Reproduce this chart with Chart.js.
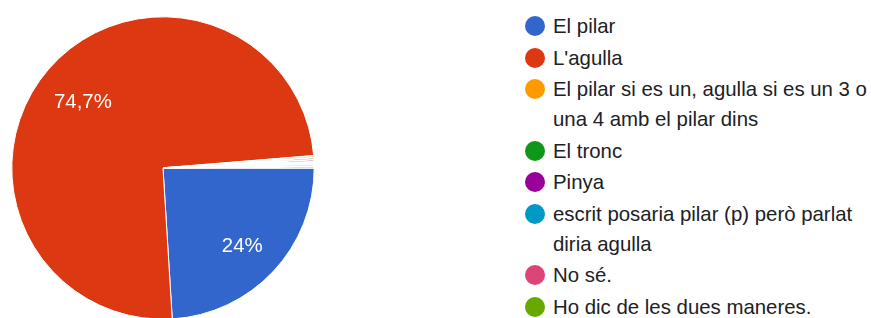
<!DOCTYPE html>
<html>
<head>
<meta charset="utf-8">
<script src="https://cdn.jsdelivr.net/npm/chart.js@4/dist/chart.umd.min.js"></script>
<style>
  html, body { margin: 0; padding: 0; background: #fff; width: 871px; height: 318px; overflow: hidden; }
  #pieBox { position: absolute; left: 11px; top: 16px; width: 304px; height: 304px; }
  #legend { position: absolute; left: 525px; top: 11px; width: 346px; margin: 0; padding: 0; list-style: none;
            font-family: "Liberation Sans", Arial, sans-serif; font-size: 20.4px; color: #202124; }
  #legend li { position: relative; padding-left: 28px; line-height: 30px; margin-bottom: 1.5px; }
  #legend li span.dot { position: absolute; left: 0; top: 5px; width: 20px; height: 20px; border-radius: 50%; }
</style>
</head>
<body>
<div id="pieBox"><canvas id="c"></canvas></div>
<ul id="legend"></ul>
<script>
const categories = [
  "El pilar",
  "L'agulla",
  "El pilar si es un, agulla si es un 3 o una 4 amb el pilar dins",
  "El tronc",
  "Pinya",
  "escrit posaria pilar (p) però parlat diria agulla",
  "No sé.",
  "Ho dic de les dues maneres."
];
const responses = [111, 345, 1, 1, 1, 1, 1, 1];
const percentLabels = ["24%", "74,7%", "", "", "", "", "", ""];
const colors = ["#3366CC", "#DC3912", "#FF9900", "#109618", "#990099", "#0099C6", "#DD4477", "#66AA00"];

const pctPlugin = {
  id: 'pct',
  afterDatasetsDraw(chart) {
    const ctx = chart.ctx;
    const meta = chart.getDatasetMeta(0);
    ctx.save();
    ctx.fillStyle = '#ffffff';
    ctx.font = '20.4px "Liberation Sans", Arial, sans-serif';
    ctx.textAlign = 'center';
    ctx.textBaseline = 'middle';
    meta.data.forEach((arc, i) => {
      const t = percentLabels[i];
      if (!t) return;
      const p = arc.getProps(['x','y','startAngle','endAngle','outerRadius'], true);
      const mid = (p.startAngle + p.endAngle) / 2;
      const r = p.outerRadius * 0.71;
      ctx.fillText(t, p.x + Math.cos(mid) * r + 1, p.y + Math.sin(mid) * r + 5);
    });
    ctx.restore();
  }
};

const chart = new Chart(document.getElementById('c'), {
  type: 'pie',
  data: {
    labels: categories,
    datasets: [{
      data: responses,
      backgroundColor: colors,
      borderColor: '#ffffff',
      borderWidth: [1, 1, 1.6, 1.6, 1.6, 1.6, 1.6, 1.6]
    }]
  },
  options: {
    responsive: true,
    maintainAspectRatio: false,
    animation: false,
    rotation: 90,
    layout: { padding: 0 },
    plugins: { legend: { display: false }, tooltip: { enabled: false } }
  },
  plugins: [pctPlugin]
});

const ul = document.getElementById('legend');
chart.data.labels.forEach((lab, i) => {
  const li = document.createElement('li');
  const dot = document.createElement('span');
  dot.className = 'dot';
  dot.style.background = chart.data.datasets[0].backgroundColor[i];
  li.appendChild(dot);
  li.appendChild(document.createTextNode(lab));
  ul.appendChild(li);
});
</script>
</body>
</html>
